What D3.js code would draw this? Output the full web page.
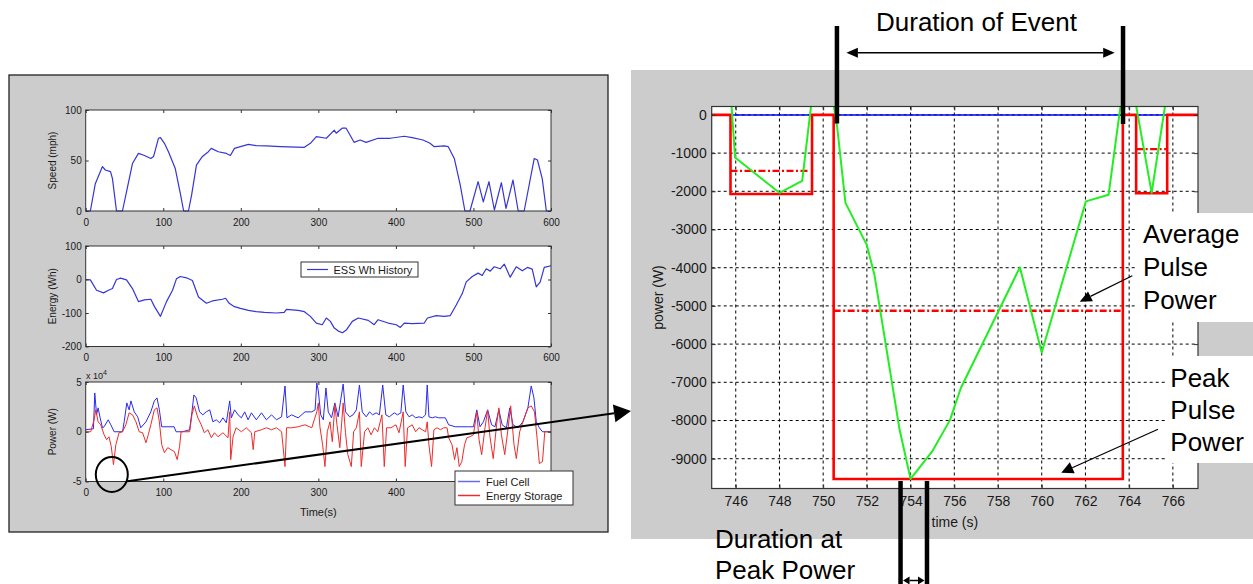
<head>
<meta charset="utf-8">
<style>
  body { margin: 0; background: #fff; }
  text { font-family: "Liberation Sans", Arial, sans-serif; }
</style>
<script src="https://d3js.org/d3.v7.min.js"></script>
</head>
<body>
<div id="chart"></div>
<script>
// ---------- left panel: drive cycle history ----------
const cycleTicks = [0, 100, 200, 300, 400, 500, 600];
const speedTicks = [0, 50, 100];
const energyTicks = [-200, -100, 0, 100];
const powerTicks = [-5, 0, 5];   // x 10^4 W

const speedT = [0, 6, 12.4, 21.6, 25.3, 32, 34.5, 39.7, 47.4, 52.6, 60.3, 68, 75.8, 84, 87.6, 93.8, 96.4, 101.5, 106.7, 115.5, 122, 126.3, 132.5, 136.6, 142.8, 150.5, 158.2, 161.9, 171, 181.4, 186.6, 191.8, 199.5, 209.8, 220, 233, 251, 282, 289.7, 297.4, 310.3, 320.6, 323, 330.7, 335.8, 341, 346, 353.9, 361.6, 377, 392.8, 410.8, 421, 435, 444, 449.5, 462.4, 467.5, 475.3, 483, 489, 495.5, 506, 512.7, 520, 527, 536, 542, 551, 557.7, 565.4, 578.4, 582.5, 588.7, 594, 600];
const speedV = [0, 0, 27, 44, 40.6, 39, 32, 0, 0, 19, 47, 57, 55, 52, 54, 72, 72.6, 67, 58.7, 42, 17.5, 0, 0, 16, 45.5, 54, 58.7, 62, 58.7, 57, 55, 62, 63.7, 66, 64.7, 64.4, 63.7, 63, 67, 73.6, 72, 80, 77, 82, 82, 75, 68, 70.3, 68, 72, 72, 74, 72.6, 70.3, 67, 63.7, 64.4, 63.7, 52, 25.7, 0, 0, 29, 9, 29, 1, 28, 2.6, 30.7, 0, 0, 52, 50.5, 32, 0, 0];

const energyT = [0, 6, 14, 23, 29.4, 34.5, 39.7, 45, 52.6, 60.3, 68, 75.8, 84, 88.7, 96.4, 104.2, 112, 117, 122, 129.9, 137.6, 145.4, 155.7, 163.4, 176.3, 180.4, 185, 191.8, 199.5, 209.8, 220, 230.4, 245.9, 256, 258.8, 274, 282, 289.7, 297.4, 305, 310.3, 315.5, 320.6, 325.8, 331, 336, 343.8, 351.5, 364.4, 372, 377, 390, 400.5, 405.7, 410.8, 421, 436.6, 440.7, 452, 462.4, 470, 477.8, 485.6, 490.7, 498.5, 506, 511.3, 516.5, 521.6, 526.8, 534.5, 539.7, 547.4, 555.2, 563, 569.6, 575.8, 581, 586, 591.3, 600];
const energyV = [0, -1, -32, -40, -32, -27, 0, 4, -1, -27, -66, -61, -59, -81, -110, -66, -32, 2, 9, 5, -3, -52, -71, -64, -59, -56, -71, -81, -86, -92, -96, -98, -100, -98, -89, -92, -96, -110, -130, -135, -115, -125, -145, -154, -159, -151, -125, -115, -122, -135, -120, -130, -135, -143, -130, -132, -130, -115, -108, -110, -108, -76, -42, -7, 9, 19, 12, 32, 25, 38, 32, 46, 7, 38, 26, 36, 31, -22, -8, 36, 41];

const fuelCellT = [0, 10, 11.7, 14, 16, 18.6, 21.6, 23.7, 29, 32.4, 36.7, 47.5, 49.6, 53, 56, 58.3, 62.6, 67, 71, 77.7, 84, 88.5, 92, 95, 98, 114, 116.6, 125, 134, 137, 139.5, 142.5, 146.8, 151, 155.4, 160, 164, 168.4, 172.7, 177, 181.3, 185.7, 187.8, 192, 196.5, 200.8, 205, 209.4, 213.7, 220, 226.7, 233, 239.6, 246, 252.6, 257, 259.5, 265.5, 274, 282.8, 291.5, 295.8, 298, 300, 303, 306.4, 309.8, 312.8, 317, 321.3, 325.5, 332, 335, 340.4, 344.7, 349, 353, 356.6, 361.7, 366, 370, 374.5, 378.7, 383, 387, 391.5, 397.9, 402, 406.4, 409.4, 412.8, 417, 421, 425.5, 429.8, 434, 438.3, 440.4, 442.6, 446.8, 451, 455.3, 459.6, 463.8, 468, 476.6, 485, 493.6, 500, 504.3, 508.5, 512.8, 518.3, 523.4, 527.7, 532.8, 537, 542.5, 546.8, 551, 557.4, 563.8, 570.2, 574.5, 578, 581, 585, 589, 600];
const fuelCellP = [0.2, 0.3, 3.9, 1.7, 2.4, 1.4, 0.4, 0.5, 1.2, 0.7, 0, 0, 1.0, 2.9, 2.2, 3.1, 2.0, 1.5, 0.4, 1.0, 2.0, 3.1, 3.4, 2.2, 0.5, 0.5, 0, 0, 0.2, 2.0, 3.7, 3.4, 2.0, 1.7, 2.0, 2.2, 1.0, 1.2, 0.9, 1.4, 0.9, 3.1, 1.4, 2.2, 1.7, 1.4, 2.0, 1.2, 1.9, 1.2, 1.9, 1.2, 1.7, 1.2, 1.5, 4.6, 1.4, 1.7, 1.4, 2.0, 2.0, 2.2, 4.9, 4.1, 1.7, 1.2, 4.4, 2.0, 1.4, 2.9, 1.5, 4.8, 2.0, 1.5, 1.7, 2.2, 4.7, 2.0, 1.5, 2.0, 1.7, 1.9, 1.7, 4.7, 1.7, 1.5, 1.9, 1.7, 1.9, 4.7, 2.0, 1.5, 1.7, 1.4, 1.5, 1.4, 1.7, 4.7, 1.5, 1.4, 1.5, 1.4, 1.4, 1.4, 0.7, 0.5, 0.5, 0.5, 0.5, 2.2, 0.5, 1.0, 2.2, 0.7, 0.5, 2.2, 0.7, 0.4, 2.4, 0.7, 0.4, 1.0, 2.4, 4.6, 3.4, 1.0, 0.4, 0, 0];

const storageT = [0, 6.5, 10.8, 13, 16, 19.4, 23.7, 27, 30, 33, 35.8, 38.9, 43, 47.5, 51.8, 56, 60.4, 64.8, 69, 73.4, 77.7, 80.7, 84, 88.5, 92, 95, 98, 101.5, 105.8, 110, 114.4, 118, 121, 123, 134, 137, 140, 144.6, 149, 153, 157.6, 162, 166, 170.6, 177, 183.5, 185.7, 187, 190, 194, 200.8, 207, 213.7, 216, 218, 226.7, 233, 239.6, 246, 252.6, 257, 259, 265.5, 274, 282.8, 291.5, 298, 300, 302, 305.5, 308.5, 311.5, 315, 318, 321.3, 324, 327.7, 332, 335, 338, 342.5, 345.5, 349, 353, 355.3, 359.6, 363.8, 368, 372.3, 376.6, 382, 385, 388, 393.6, 400, 404, 409.4, 412, 415, 421, 425.5, 429.8, 434, 438.3, 440.4, 442.6, 446, 449, 453, 457.4, 461.7, 466, 468, 472.3, 475.7, 478.7, 481.7, 485, 488.5, 491.5, 495.7, 500, 504.3, 507.2, 510.6, 514.9, 518.3, 521.3, 525.5, 529.8, 532.8, 536, 540.4, 544.7, 548, 552.3, 555.3, 559.6, 563.8, 570.2, 574.5, 578.7, 582, 585, 589, 592, 600];
const storageP = [0, 0, 1.2, 2.2, 1.0, 0.7, -0.3, -0.8, -0.5, -1.5, -3.3, -1.3, -0.1, 0, 0.7, 1.9, 1.7, 1.0, 0, -0.1, -1.1, -0.3, 0.7, 2.2, 2.4, 1.0, -1.3, -2.1, -1.6, -1.8, -2.0, -2.8, -1.5, 0, 0, 1.7, 2.6, 1.4, 0.7, -0.1, 0.2, -0.6, -0.1, -0.5, -0.1, -0.6, 2.0, -2.8, -0.5, 0.4, 0, 0.4, -0.1, -1.8, 0, 0.2, 0.4, 0.2, 0.4, 0, -3.5, 0.4, 0.4, 0.5, 0.7, 0.4, 2.0, 2.9, 0.5, -1.3, -3.5, 0, 1.0, -1.0, 2.7, 0.7, -1.6, 2.9, -0.1, -2.3, -3.5, 0, 0.4, 2.0, -3.5, 0, 0.4, -0.3, 0.4, 0, 1.7, -3.5, 0.4, 0.4, 0.7, -0.1, 2.0, -3.5, 0.4, 0.7, 0, 0.4, 0.2, 0, 1.0, -1.3, -3.5, 0.2, 0.4, 0.2, 0.4, 0.4, -0.6, -1.3, -2.8, -1.6, -3.5, -3.0, -1.3, -0.6, -0.5, -0.3, 2.0, -0.8, -2.3, 0.4, 2.2, -0.5, -2.7, 0.7, 2.4, -0.3, -2.3, 0.4, 2.6, -1.3, -2.7, 0, 1.0, 2.4, 2.6, 2.0, -0.6, -3.2, -3.0, 0, 0];

// ---------- right panel: zoom on one discharge event ----------
const zoomTicksX = [746, 748, 750, 752, 754, 756, 758, 760, 762, 764, 766];
const zoomTicksY = [0, -1000, -2000, -3000, -4000, -5000, -6000, -7000, -8000, -9000];
const fuelZoomT = [744.9, 767.15];
const fuelZoomP = [0, 0];
const peakT = [744.9, 745.76, 745.76, 749.49, 749.49, 750.48, 750.48, 763.71, 763.71, 764.32, 764.32, 765.74, 765.74, 767.15];
const peakP = [0, 0, -2070, -2070, 0, 0, -9530, -9530, 0, 0, -2050, -2050, 0, 0];
const avgStart = [745.76, 750.48, 764.32];
const avgEnd = [749.4, 763.71, 765.74];
const avgP = [-1465, -5128, -896];
const essT = [745.8, 745.97, 748.0, 749.04, 749.46, 750.47, 750.64, 751.02, 752.0, 752.35, 753.5, 754.0, 754.98, 755.8, 756.3, 759.0, 760.0, 762.02, 763.06, 763.55, 763.62, 764.3, 765.03, 765.66];
const essP = [300, -1115, -2040, -1727, 300, 300, -314, -2302, -3410, -4200, -8250, -9530, -8817, -7990, -7150, -3990, -6220, -2263, -2088, 0, 300, 300, -2040, 300];
const eventStart = 750.63, eventEnd = 763.72;
const peakStart = 753.54, peakEnd = 754.75;

const width = 1253, height = 584;
const svg = d3.select("#chart").append("svg")
    .attr("width", width)
    .attr("height", height);

function zip(a, b) { return a.map(function(v, i) { return [v, b[i]]; }); }

function styleAxis(sel, size) {
    sel.select(".domain").remove();
    sel.selectAll("line").attr("stroke", "#333");
    sel.selectAll("text").attr("fill", "#1a1a1a").style("font-size", size + "px");
}

// ---------- left panel ----------
svg.append("rect")
    .attr("x", 9).attr("y", 75).attr("width", 599).attr("height", 457)
    .attr("fill", "#cccccc").attr("stroke", "#222").attr("stroke-width", 1.3);

const lx = d3.scaleLinear().domain([0, 600]).range([85.7, 551]);

function subplot(top, bottom, domainY, ticksY, label, series, xLabels) {
    const y = d3.scaleLinear().domain(domainY).range([bottom, top]);
    const g = svg.append("g");
    const x0 = lx.range()[0], x1 = lx.range()[1];
    g.append("rect").attr("x", x0).attr("y", top).attr("width", x1 - x0).attr("height", bottom - top).attr("fill", "#fff");

    const line = d3.line().x(function(d) { return lx(d[0]); }).y(function(d) { return y(d[1]); });
    series.forEach(function(s) {
        g.append("path").datum(s.data).attr("d", line)
            .attr("fill", "none").attr("stroke", s.color).attr("stroke-width", s.w || 1.1)
            .attr("stroke-linejoin", "round");
    });

    g.append("g").attr("transform", "translate(0," + bottom + ")")
        .call(d3.axisBottom(lx).tickValues(cycleTicks).tickSizeInner(-3).tickSizeOuter(0).tickPadding(7.4)
            .tickFormat(function(d) { return xLabels.indexOf(d) >= 0 ? String(d) : ""; }))
        .call(styleAxis, 10);
    g.append("g").attr("transform", "translate(0," + top + ")")
        .call(d3.axisTop(lx).tickValues(cycleTicks).tickSizeInner(-3).tickSizeOuter(0).tickFormat(""))
        .call(styleAxis, 10);
    g.append("g").attr("transform", "translate(" + x0 + ",0)")
        .call(d3.axisLeft(y).tickValues(ticksY).tickSizeInner(-3).tickSizeOuter(0).tickPadding(4).tickFormat(String))
        .call(styleAxis, 10);
    g.append("g").attr("transform", "translate(" + x1 + ",0)")
        .call(d3.axisRight(y).tickValues(ticksY).tickSizeInner(-3).tickSizeOuter(0).tickFormat(""))
        .call(styleAxis, 10);
    g.append("rect").attr("x", x0).attr("y", top).attr("width", x1 - x0).attr("height", bottom - top)
        .attr("fill", "none").attr("stroke", "#333").attr("stroke-width", 1);

    g.append("text")
        .attr("transform", "translate(52," + (top + bottom) / 2 + ") rotate(-90)")
        .attr("text-anchor", "middle").attr("dy", "0.35em")
        .style("font-size", "10px").attr("fill", "#1a1a1a")
        .text(label);
    return g;
}

subplot(110, 211, [0, 100], speedTicks, "Speed (mph)",
    [{ data: zip(speedT, speedV), color: "#3535d8", w: 1.2 }], cycleTicks);

const gE = subplot(246, 346.5, [-200, 100], energyTicks, "Energy (Wh)",
    [{ data: zip(energyT, energyV), color: "#3535d8", w: 1.2 }], cycleTicks);

gE.append("rect").attr("x", 301).attr("y", 262).attr("width", 117).attr("height", 15)
    .attr("fill", "#fff").attr("stroke", "#333").attr("stroke-width", 1);
gE.append("line").attr("x1", 307).attr("x2", 328).attr("y1", 269.5).attr("y2", 269.5)
    .attr("stroke", "#3535d8").attr("stroke-width", 1.2);
gE.append("text").attr("x", 333.5).attr("y", 273.5).style("font-size", "11px").attr("fill", "#1a1a1a")
    .text("ESS Wh History");

// the legend hides the 500 and 600 labels of the power plot
const gP = subplot(382, 481.5, [-5, 5], powerTicks, "Power (W)", [
    { data: zip(fuelCellT, fuelCellP), color: "#2a2af0", w: 1 },
    { data: zip(storageT, storageP), color: "#f02a2a", w: 1 }
], [0, 100, 200, 300, 400]);

gP.append("text").attr("x", 86).attr("y", 379).style("font-size", "9px").attr("fill", "#1a1a1a")
    .text("x 10")
    .append("tspan").attr("dy", -4).style("font-size", "7px").text("4");

gP.append("text").attr("x", (lx.range()[0] + lx.range()[1]) / 2).attr("y", 516)
    .attr("text-anchor", "middle").style("font-size", "11px").attr("fill", "#1a1a1a")
    .text("Time(s)");

gP.append("rect").attr("x", 455).attr("y", 471).attr("width", 118).attr("height", 34)
    .attr("fill", "#fff").attr("stroke", "#333").attr("stroke-width", 1);
[["Fuel Cell", "#6a6af0", 481.5], ["Energy Storage", "#f02a2a", 495.5]].forEach(function(e) {
    gP.append("line").attr("x1", 458).attr("x2", 480).attr("y1", e[2]).attr("y2", e[2])
        .attr("stroke", e[1]).attr("stroke-width", 1.5);
    gP.append("text").attr("x", 486).attr("y", e[2] + 4).style("font-size", "11px").attr("fill", "#1a1a1a")
        .text(e[0]);
});

// ---------- right panel ----------
svg.append("rect")
    .attr("x", 631).attr("y", 70).attr("width", 622).attr("height", 469)
    .attr("fill", "#cccccc");

const rx = d3.scaleLinear().domain([744.9, 767.15]).range([711.7, 1198]);
const ry = d3.scaleLinear().domain([-9780, 220]).range([488.5, 106.5]);
const rg = svg.append("g");

rg.append("clipPath").attr("id", "zoomClip").append("rect")
    .attr("x", rx.range()[0]).attr("y", ry.range()[1])
    .attr("width", rx.range()[1] - rx.range()[0]).attr("height", ry.range()[0] - ry.range()[1]);

rg.append("rect")
    .attr("x", rx.range()[0]).attr("y", ry.range()[1])
    .attr("width", rx.range()[1] - rx.range()[0]).attr("height", ry.range()[0] - ry.range()[1])
    .attr("fill", "#fff");

rg.selectAll(".vgrid").data(zoomTicksX).enter().append("line")
    .attr("x1", rx).attr("x2", rx).attr("y1", ry.range()[1]).attr("y2", ry.range()[0])
    .attr("stroke", "#000").attr("stroke-width", 1).attr("stroke-dasharray", "3,3");
rg.selectAll(".hgrid").data(zoomTicksY).enter().append("line")
    .attr("y1", ry).attr("y2", ry).attr("x1", rx.range()[0]).attr("x2", rx.range()[1])
    .attr("stroke", "#000").attr("stroke-width", 1).attr("stroke-dasharray", "3,3");

const rline = d3.line().x(function(d) { return rx(d[0]); }).y(function(d) { return ry(d[1]); });
const plotArea = rg.append("g").attr("clip-path", "url(#zoomClip)");

plotArea.append("path").datum(zip(fuelZoomT, fuelZoomP)).attr("d", rline)
    .attr("fill", "none").attr("stroke", "#0000ff").attr("stroke-width", 1.5);
plotArea.append("path").datum(zip(peakT, peakP)).attr("d", rline)
    .attr("fill", "none").attr("stroke", "#ff0000").attr("stroke-width", 2.6);
plotArea.selectAll(".avg").data(avgP).enter().append("line")
    .attr("x1", function(d, i) { return rx(avgStart[i]); })
    .attr("x2", function(d, i) { return rx(avgEnd[i]); })
    .attr("y1", ry).attr("y2", ry)
    .attr("stroke", "#ff0000").attr("stroke-width", 2.4).attr("stroke-dasharray", "7,2.5,2,2.5");
plotArea.append("path").datum(zip(essT, essP)).attr("d", rline)
    .attr("fill", "none").attr("stroke", "#22ee22").attr("stroke-width", 2).attr("stroke-linejoin", "round");

rg.append("g").attr("transform", "translate(0," + ry.range()[0] + ")")
    .call(d3.axisBottom(rx).tickValues(zoomTicksX).tickSizeInner(-4).tickSizeOuter(0).tickPadding(7.6).tickFormat(String))
    .call(styleAxis, 14);
rg.append("g").attr("transform", "translate(0," + ry.range()[1] + ")")
    .call(d3.axisTop(rx).tickValues(zoomTicksX).tickSizeInner(-4).tickSizeOuter(0).tickFormat(""))
    .call(styleAxis, 14);
rg.append("g").attr("transform", "translate(" + rx.range()[0] + ",0)")
    .call(d3.axisLeft(ry).tickValues(zoomTicksY).tickSizeInner(-4).tickSizeOuter(0).tickPadding(5).tickFormat(String))
    .call(styleAxis, 14);
rg.append("g").attr("transform", "translate(" + rx.range()[1] + ",0)")
    .call(d3.axisRight(ry).tickValues(zoomTicksY).tickSizeInner(-4).tickSizeOuter(0).tickFormat(""))
    .call(styleAxis, 14);
rg.append("rect")
    .attr("x", rx.range()[0]).attr("y", ry.range()[1])
    .attr("width", rx.range()[1] - rx.range()[0]).attr("height", ry.range()[0] - ry.range()[1])
    .attr("fill", "none").attr("stroke", "#333").attr("stroke-width", 1.2);

rg.append("text")
    .attr("transform", "translate(658," + (ry.range()[0] + ry.range()[1]) / 2 + ") rotate(-90)")
    .attr("text-anchor", "middle").attr("dy", "0.35em")
    .style("font-size", "14px").attr("fill", "#1a1a1a")
    .text("power (W)");
rg.append("text")
    .attr("x", (rx.range()[0] + rx.range()[1]) / 2).attr("y", 527)
    .attr("text-anchor", "middle").style("font-size", "14px").attr("fill", "#1a1a1a")
    .text("time (s)");

// ---------- annotations ----------
const ann = svg.append("g");

function head(x1, y1, x2, y2, len, half) {
    const a = Math.atan2(y2 - y1, x2 - x1);
    const bx = x2 - len * Math.cos(a), by = y2 - len * Math.sin(a);
    const px = -Math.sin(a) * half, py = Math.cos(a) * half;
    ann.append("path")
        .attr("d", "M" + x2 + "," + y2 + "L" + (bx + px) + "," + (by + py) + "L" + (bx - px) + "," + (by - py) + "Z")
        .attr("fill", "#000");
    return [bx, by];
}
function arrow(x1, y1, x2, y2, len, half, w) {
    const b = head(x1, y1, x2, y2, len, half);
    ann.append("line").attr("x1", x1).attr("y1", y1).attr("x2", b[0]).attr("y2", b[1])
        .attr("stroke", "#000").attr("stroke-width", w);
}
function doubleArrow(x1, x2, y, len, half, w) {
    const a = head(x2, y, x1, y, len, half);
    const b = head(x1, y, x2, y, len, half);
    ann.append("line").attr("x1", a[0]).attr("y1", y).attr("x2", b[0]).attr("y2", y)
        .attr("stroke", "#000").attr("stroke-width", w);
}
function bar(x, y1, y2) {
    ann.append("line").attr("x1", x).attr("x2", x).attr("y1", y1).attr("y2", y2)
        .attr("stroke", "#000").attr("stroke-width", 4.5);
}
function label(x, y, lines, step) {
    const t = ann.append("text").attr("x", x).attr("y", y).style("font-size", "26px").attr("fill", "#000");
    lines.forEach(function(s, i) {
        t.append("tspan").attr("x", x).attr("dy", i ? step : 0).text(s);
    });
}

// white label backgrounds over the gray frame
ann.append("rect").attr("x", 1135).attr("y", 213).attr("width", 118).attr("height", 109).attr("fill", "#fff");
ann.append("rect").attr("x", 1165).attr("y", 356).attr("width", 88).attr("height", 107).attr("fill", "#fff");

// duration of event
bar(rx(eventStart), 26, 123.5);
bar(rx(eventEnd), 26, 124);
doubleArrow(846.4, 1114.7, 52.7, 11.5, 5, 1.6);
ann.append("text").attr("x", 876).attr("y", 30.7).style("font-size", "26px").attr("fill", "#000")
    .text("Duration of Event");

// duration at peak power
bar(rx(peakStart), 481, 584);
bar(rx(peakEnd), 481, 584);
doubleArrow(rx(peakStart) + 2.5, rx(peakEnd) - 2.5, 580.5, 6.5, 4, 1.5);
label(715, 548.3, ["Duration at", "Peak Power"], 31);

// average / peak pulse power
arrow(1132.3, 275.7, 1079.7, 301.7, 12, 5.5, 1.2);
label(1143, 243.3, ["Average", "Pulse", "Power"], 33);
arrow(1158, 429.3, 1061.3, 472.7, 12, 6, 1.2);
label(1170.3, 387.3, ["Peak", "Pulse", "Power"], 31.7);

// link from the cycle plot to the zoom
ann.append("ellipse").attr("cx", 111.8).attr("cy", 474.5).attr("rx", 16).attr("ry", 17.5)
    .attr("fill", "none").attr("stroke", "#000").attr("stroke-width", 2);
arrow(127.3, 481.3, 631, 411, 17, 9, 2);
</script>
</body>
